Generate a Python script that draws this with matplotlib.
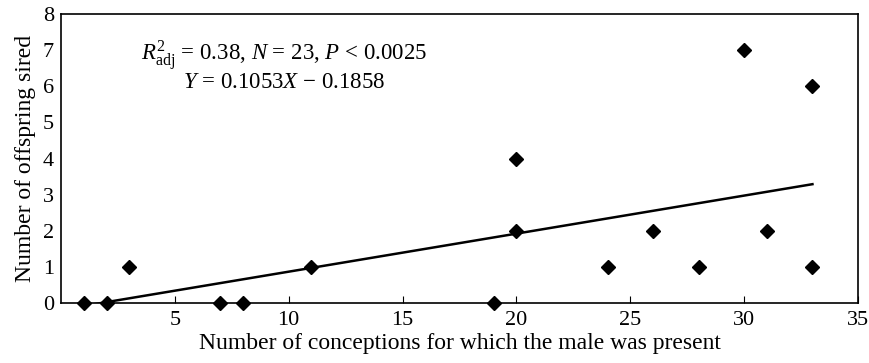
import numpy as np
import matplotlib.pyplot as plt

plt.rcParams['font.family'] = ['Liberation Serif', 'DejaVu Serif']
plt.rcParams['mathtext.fontset'] = 'custom'
plt.rcParams['mathtext.rm'] = 'Liberation Serif'
plt.rcParams['mathtext.it'] = 'Liberation Serif:italic'

# data
conceptions = [1, 2, 3, 7, 8, 11, 19, 20, 20, 24, 26, 28, 30, 31, 33, 33]
offspring = [0, 0, 1, 0, 0, 1, 0, 4, 2, 1, 2, 1, 7, 2, 6, 1]
slope = 0.1053
intercept = -0.1858
fit_x = np.array([1, 33])

fig = plt.figure(figsize=(8.7, 3.63), dpi=100)
ax = fig.add_axes([61/870, 1 - 303/363, 797/870, 289/363])

ax.plot(fit_x, slope * fit_x + intercept, color='black', lw=1.8, zorder=2)
ax.plot(conceptions, offspring, 'D', color='black', ms=7, clip_on=False, zorder=3)

ax.set_xlim(0, 35)
ax.set_ylim(0, 8)
ax.set_xticks([5, 10, 15, 20, 25, 30, 35])
ax.set_yticks(range(9))
ax.tick_params(axis='x', direction='in', length=5, labelsize=16, pad=6)
ax.tick_params(axis='y', length=0, labelsize=16, pad=5)
for s in ax.spines.values():
    s.set_linewidth(1.2)

ax.set_xlabel('Number of conceptions for which the male was present', fontsize=17, labelpad=2)
ax.set_ylabel('Number of offspring sired', fontsize=17, labelpad=5)

ax.text(9.8, 6.85, r'$R^2_{\mathrm{adj}}$ = 0.38, $N$ = 23, $P$ < 0.0025',
        ha='center', va='center', fontsize=16.5)
ax.text(9.8, 6.1, r'$Y$ = 0.1053$X$ $-$ 0.1858',
        ha='center', va='center', fontsize=16.5)

fig.savefig('out.png', dpi=100)
